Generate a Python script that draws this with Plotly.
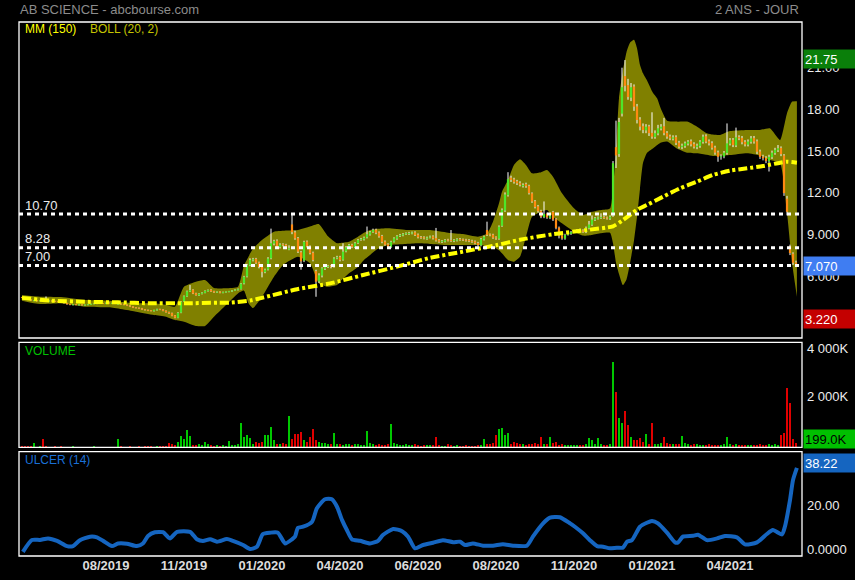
import plotly.graph_objects as go

# ---------------- data ----------------
opens = [
    4.72, 4.70, 4.63, 4.56, 4.47, 4.49, 4.45, 4.50, 4.46, 4.42,
    4.48, 4.45, 4.41, 4.40, 4.37, 4.31, 4.23, 4.17, 4.21, 4.16,
    4.20, 4.15, 4.17, 4.20, 4.25, 4.25, 4.31, 4.29, 4.26, 4.32,
    4.28, 4.31, 4.22, 4.26, 4.23, 4.19, 4.13, 4.06, 3.99, 3.96,
    3.93, 3.86, 3.81, 3.77, 3.73, 3.79, 3.87, 3.84, 3.76, 3.66,
    3.58, 3.42, 3.25, 3.62, 4.42, 4.78, 5.14, 5.26, 5.01, 4.86,
    4.97, 5.04, 5.17, 5.26, 5.16, 5.07, 5.13, 5.04, 5.09, 5.11,
    5.14, 5.21, 5.24, 5.31, 5.72, 6.22, 7.02, 7.38, 7.48, 7.22,
    6.92, 6.53, 6.72, 7.52, 8.58, 8.78, 8.33, 8.52, 8.49, 8.15,
    9.95, 9.38, 8.97, 7.95, 7.35, 8.72, 8.38, 7.92, 6.60, 5.86,
    6.28, 6.78, 6.90, 6.97, 6.92, 7.52, 7.62, 7.42, 8.02, 8.28,
    8.49, 8.33, 8.62, 8.85, 8.88, 9.02, 9.23, 9.42, 9.57, 9.37,
    9.12, 8.72, 8.52, 8.33, 8.72, 8.93, 9.12, 9.17, 9.27, 9.28,
    9.31, 9.38, 9.22, 9.05, 9.02, 8.93, 9.02, 9.09, 8.97, 8.82,
    8.69, 8.73, 8.85, 8.82, 8.76, 8.80, 8.90, 8.87, 8.84, 8.82,
    8.77, 8.73, 8.62, 8.45, 8.88, 9.55, 9.22, 9.21, 9.02, 8.93,
    9.85, 10.95, 12.05, 13.30, 13.18, 13.05, 12.92, 12.70, 12.85, 12.72,
    12.18, 11.62, 11.25, 10.92, 10.48, 10.72, 10.42, 10.85, 10.32, 9.72,
    9.17, 8.93, 9.22, 9.28, 9.42, 9.43, 9.57, 9.52, 9.41, 9.68,
    9.93, 10.28, 10.38, 10.43, 10.48, 10.44, 10.37, 10.60, 15.50, 15.00,
    17.90, 20.60, 19.95, 19.05, 19.85, 18.42, 17.48, 17.00, 16.70, 16.99,
    16.52, 16.23, 16.48, 16.83, 17.00, 16.52, 16.27, 16.10, 16.22, 15.82,
    15.50, 15.58, 15.75, 15.92, 15.72, 15.50, 15.58, 15.87, 16.28, 15.92,
    15.79, 15.47, 15.12, 14.78, 14.83, 15.08, 15.75, 16.02, 15.62, 16.22,
    16.15, 15.87, 15.68, 15.88, 16.15, 15.92, 15.19, 14.82, 14.72, 14.48,
    14.78, 15.08, 15.28, 15.44, 14.90, 11.80, 8.40, 7.85, 7.22,
]
highs = [
    4.75, 4.73, 4.65, 4.58, 4.52, 4.51, 4.53, 4.52, 4.78, 4.50,
    4.50, 4.47, 4.44, 4.42, 4.39, 4.33, 4.25, 4.23, 4.23, 4.22,
    4.22, 4.20, 4.24, 4.26, 4.29, 4.33, 4.34, 4.31, 4.34, 4.35,
    4.33, 4.34, 4.31, 4.28, 4.26, 4.21, 4.16, 4.08, 4.02, 3.99,
    3.96, 3.88, 3.84, 3.80, 3.83, 3.90, 3.90, 3.87, 3.78, 3.69,
    3.62, 3.45, 3.65, 4.45, 4.85, 5.20, 5.60, 5.30, 5.05, 5.02,
    5.09, 5.22, 5.28, 5.30, 5.19, 5.15, 5.16, 5.13, 5.15, 5.18,
    5.24, 5.30, 5.35, 5.75, 6.26, 7.12, 7.52, 7.55, 7.55, 7.28,
    6.98, 6.78, 7.60, 9.65, 8.85, 8.88, 8.60, 8.60, 8.56, 8.45,
    10.70, 9.50, 9.05, 8.05, 8.78, 8.80, 8.45, 8.00, 6.70, 6.45,
    6.88, 7.00, 7.05, 7.05, 7.60, 7.70, 7.70, 8.60, 8.40, 8.55,
    8.56, 8.68, 8.90, 8.98, 9.08, 9.80, 9.48, 9.65, 9.65, 9.45,
    9.20, 8.80, 8.60, 8.78, 9.03, 9.18, 9.27, 9.33, 9.38, 9.42,
    9.44, 9.46, 9.30, 9.12, 9.10, 9.08, 9.15, 9.17, 9.70, 8.90,
    8.83, 8.90, 8.92, 9.55, 8.90, 8.96, 8.98, 8.94, 8.92, 8.90,
    8.85, 8.80, 8.70, 8.98, 9.15, 10.15, 9.30, 9.28, 9.10, 9.88,
    11.10, 12.25, 13.70, 13.45, 13.30, 13.15, 13.05, 12.90, 12.95, 12.80,
    12.25, 11.70, 11.35, 11.00, 11.60, 10.80, 10.70, 10.92, 10.40, 9.80,
    9.25, 9.28, 9.38, 9.48, 9.52, 9.62, 9.65, 9.60, 9.80, 10.20,
    10.60, 10.48, 10.52, 10.75, 10.55, 10.52, 10.60, 14.50, 17.40, 17.60,
    21.20, 21.75, 20.40, 20.10, 20.00, 18.60, 17.65, 17.20, 17.15, 17.10,
    18.00, 16.70, 17.10, 17.15, 17.60, 16.65, 16.40, 16.35, 16.35, 15.95,
    15.75, 15.90, 16.00, 16.05, 15.85, 15.75, 16.00, 16.40, 16.42, 16.05,
    15.92, 15.60, 15.25, 14.98, 15.22, 17.20, 16.15, 16.15, 16.90, 16.35,
    16.30, 16.00, 16.05, 16.30, 16.30, 16.05, 15.32, 14.95, 14.85, 14.95,
    15.25, 15.45, 15.65, 15.55, 15.00, 12.00, 8.50, 7.95, 7.35,
]
lows = [
    4.66, 4.60, 4.53, 4.48, 4.44, 4.43, 4.43, 4.42, 4.41, 4.40,
    4.42, 4.40, 4.37, 4.35, 4.28, 4.19, 4.15, 4.14, 4.15, 4.14,
    4.13, 4.12, 4.15, 4.18, 4.22, 4.23, 4.26, 4.24, 4.24, 4.27,
    4.25, 4.26, 4.20, 4.19, 4.15, 4.09, 4.02, 3.95, 3.92, 3.89,
    3.82, 3.77, 3.73, 3.71, 3.70, 3.76, 3.80, 3.72, 3.62, 3.53,
    3.36, 3.22, 3.22, 3.58, 4.38, 4.74, 5.10, 4.95, 4.84, 4.82,
    4.93, 5.01, 5.13, 5.11, 5.04, 5.03, 5.01, 5.01, 5.05, 5.08,
    5.10, 5.18, 5.21, 5.28, 5.65, 6.15, 6.95, 7.30, 7.12, 6.80,
    6.15, 6.45, 6.65, 7.45, 8.45, 8.25, 8.22, 8.38, 8.25, 8.10,
    9.25, 8.85, 7.90, 6.70, 7.25, 8.30, 7.80, 7.30, 4.76, 5.75,
    6.15, 6.68, 6.82, 6.80, 6.85, 7.45, 7.30, 7.35, 7.95, 8.20,
    8.25, 8.25, 8.55, 8.78, 8.80, 8.95, 9.15, 9.35, 9.25, 9.00,
    8.60, 8.42, 8.22, 8.25, 8.65, 8.85, 9.05, 9.10, 9.20, 9.20,
    9.24, 9.12, 8.95, 8.92, 8.88, 8.85, 8.95, 8.87, 8.72, 8.63,
    8.62, 8.66, 8.73, 8.70, 8.68, 8.73, 8.78, 8.76, 8.72, 8.68,
    8.63, 8.52, 8.38, 8.38, 8.80, 9.12, 9.10, 8.92, 8.85, 8.85,
    9.78, 10.85, 11.95, 13.00, 12.88, 12.78, 12.68, 12.60, 12.58, 12.10,
    11.50, 11.10, 10.80, 10.40, 10.40, 10.35, 10.33, 10.20, 9.60, 8.95,
    8.85, 8.85, 9.15, 9.20, 9.35, 9.35, 9.42, 9.35, 9.33, 9.60,
    9.85, 10.20, 10.30, 10.35, 10.35, 10.30, 10.28, 10.50, 14.00, 14.80,
    17.70, 19.50, 18.90, 18.80, 18.10, 17.20, 16.70, 16.50, 16.50, 16.30,
    16.10, 16.10, 16.35, 16.70, 16.35, 16.10, 16.00, 15.98, 15.65, 15.40,
    15.35, 15.45, 15.62, 15.55, 15.40, 15.35, 15.45, 15.75, 15.78, 15.62,
    15.32, 14.95, 14.45, 14.60, 14.70, 14.95, 15.62, 15.50, 15.50, 16.00,
    15.70, 15.55, 15.55, 15.75, 15.75, 15.00, 14.65, 14.55, 14.35, 13.75,
    14.65, 14.95, 15.15, 14.85, 12.00, 10.60, 7.75, 7.05, 6.95,
]
closes = [
    4.69, 4.62, 4.55, 4.50, 4.48, 4.46, 4.49, 4.45, 4.43, 4.47,
    4.44, 4.42, 4.40, 4.38, 4.30, 4.22, 4.18, 4.20, 4.17, 4.19,
    4.16, 4.18, 4.21, 4.24, 4.26, 4.30, 4.28, 4.27, 4.31, 4.29,
    4.30, 4.28, 4.25, 4.22, 4.18, 4.12, 4.05, 3.98, 3.95, 3.92,
    3.85, 3.80, 3.76, 3.74, 3.80, 3.86, 3.83, 3.75, 3.65, 3.57,
    3.40, 3.26, 3.60, 4.40, 4.80, 5.15, 5.24, 5.00, 4.88, 4.98,
    5.05, 5.18, 5.24, 5.15, 5.08, 5.12, 5.05, 5.10, 5.12, 5.15,
    5.20, 5.25, 5.30, 5.70, 6.20, 7.04, 7.40, 7.45, 7.20, 6.90,
    6.55, 6.70, 7.50, 8.60, 8.75, 8.35, 8.50, 8.47, 8.35, 8.24,
    9.40, 8.95, 8.00, 7.30, 8.70, 8.40, 7.90, 7.40, 5.84, 6.30,
    6.80, 6.92, 6.95, 6.90, 7.50, 7.60, 7.40, 8.00, 8.30, 8.47,
    8.35, 8.60, 8.83, 8.90, 9.00, 9.25, 9.40, 9.55, 9.35, 9.10,
    8.70, 8.50, 8.35, 8.70, 8.95, 9.10, 9.19, 9.25, 9.30, 9.33,
    9.36, 9.20, 9.03, 9.00, 8.95, 9.00, 9.07, 8.95, 8.80, 8.71,
    8.75, 8.83, 8.80, 8.78, 8.82, 8.88, 8.85, 8.83, 8.80, 8.75,
    8.71, 8.60, 8.47, 8.90, 9.07, 9.20, 9.19, 9.00, 8.95, 9.79,
    11.00, 12.10, 13.20, 13.15, 13.00, 12.90, 12.80, 12.78, 12.70, 12.20,
    11.60, 11.20, 10.90, 10.50, 10.70, 10.45, 10.60, 10.30, 9.70, 9.15,
    8.95, 9.20, 9.30, 9.40, 9.45, 9.55, 9.50, 9.43, 9.70, 9.95,
    10.30, 10.40, 10.45, 10.46, 10.42, 10.39, 10.50, 14.35, 14.90, 17.30,
    19.80, 19.90, 19.10, 19.80, 18.40, 17.45, 16.97, 16.73, 16.97, 16.50,
    16.25, 16.50, 16.85, 16.97, 16.50, 16.25, 16.13, 16.20, 15.80, 15.53,
    15.60, 15.77, 15.89, 15.70, 15.53, 15.60, 15.89, 16.25, 15.90, 15.77,
    15.45, 15.10, 14.80, 14.85, 15.10, 15.77, 16.00, 15.65, 16.20, 16.13,
    15.85, 15.70, 15.90, 16.13, 15.90, 15.17, 14.80, 14.70, 14.50, 14.80,
    15.10, 15.30, 15.42, 15.00, 12.20, 10.86, 7.90, 7.20, 7.07,
]
volumes_k = [
    60, 45, 40, 35, 190, 30, 40, 357, 50, 30,
    25, 40, 20, 35, 30, 25, 20, 45, 30, 25,
    20, 30, 25, 20, 35, 25, 20, 30, 25, 20,
    30, 25, 332, 40, 30, 25, 35, 30, 25, 40,
    30, 45, 70, 35, 30, 40, 60, 35, 50, 166,
    120, 90, 200, 481, 332, 718, 480, 110, 80, 120,
    90, 200, 140, 80, 60, 90, 70, 80, 60, 260,
    90, 110, 150, 996, 415, 510, 373, 140, 220, 160,
    200, 510, 510, 842, 290, 150, 120, 180, 130, 1310,
    330, 552, 552, 650, 300, 240, 415, 747, 290, 200,
    160, 180, 130, 120, 580, 120, 140, 110, 150, 120,
    100, 130, 120, 90, 110, 693, 180, 120, 100, 140,
    110, 90, 120, 967, 166, 120, 90, 110, 120, 80,
    90, 120, 80, 70, 90, 110, 80, 100, 415, 80,
    70, 60, 120, 90, 70, 80, 60, 70, 90, 60,
    70, 60, 80, 90, 361, 150, 120, 160, 510, 760,
    788, 510, 580, 150, 220, 160, 120, 140, 110, 130,
    120, 160, 140, 444, 130, 120, 415, 180, 200, 110,
    120, 100, 90, 110, 80, 100, 90, 110, 120, 402,
    290, 150, 373, 120, 90, 110, 150, 3556, 2311, 1232,
    1025, 1508, 926, 444, 290, 290, 373, 200, 552, 150,
    996, 150, 120, 180, 415, 160, 130, 120, 150, 140,
    470, 160, 120, 110, 130, 120, 100, 110, 90, 120,
    110, 100, 90, 110, 120, 415, 120, 90, 150, 100,
    90, 110, 80, 100, 90, 110, 120, 100, 90, 130,
    110, 120, 100, 510, 610, 2449, 1853, 332, 199,
]

bb_idx = [0, 6, 13, 21, 29, 38, 44, 48, 51, 54, 58, 61, 64, 68, 72, 74, 75.5, 77,
          80, 84, 87, 92, 96, 99, 102, 105, 106, 109, 112, 114, 116, 118, 122, 128,
          132, 136, 142, 147, 152, 155, 157, 159, 160, 162, 164, 166, 168, 170, 173,
          175, 177, 180, 184, 187, 190, 193, 196, 197, 198, 199, 200.3, 201.5, 202.7,
          204, 205, 206, 207, 208.3, 210.3, 211.7, 212.7, 215, 218.3, 221.7, 225,
          228.3, 230.3, 232.7, 236, 241.7, 246, 249.3, 252.7, 255, 256.7, 258.3]
bb_upper = [4.88, 4.76, 4.74, 4.52, 4.48, 4.29, 4.29, 4.17, 4.05, 5.48, 5.84, 5.96, 5.39,
            5.37, 5.48, 7.00, 7.63, 8.20, 8.83, 9.43, 9.50, 9.55, 9.80, 9.97, 9.10, 8.60,
            8.62, 8.71, 9.07, 9.35, 9.55, 9.62, 9.67, 9.55, 9.55, 9.55, 9.36, 9.26, 9.07,
            9.30, 10.15, 11.47, 12.30, 13.14, 14.22, 14.63, 14.22, 13.62, 13.70, 13.86,
            13.38, 12.19, 11.11, 10.63, 10.86, 10.99, 11.10, 12.50, 15.30, 19.00, 21.00,
            22.30, 23.00, 23.20, 22.60, 21.40, 20.80, 20.30, 19.40, 19.00, 18.40, 17.40,
            17.33, 17.33, 16.97, 16.50, 16.40, 16.37, 16.65, 16.73, 16.73, 16.85, 16.00,
            17.93, 18.77, 18.80]
bb_lower = [4.48, 4.24, 4.30, 4.05, 4.00, 3.69, 3.45, 3.33, 3.09, 2.97, 2.66, 2.66, 3.33,
            4.17, 5.00, 5.20, 4.30, 3.95, 4.76, 6.20, 7.04, 7.63, 7.16, 5.72, 5.48, 5.60,
            5.84, 6.44, 6.90, 7.40, 7.75, 8.12, 8.47, 8.55, 8.60, 8.55, 8.47, 8.47, 8.47,
            8.40, 8.35, 8.10, 7.88, 7.40, 7.28, 7.63, 9.07, 10.50, 10.86, 10.99, 10.50,
            10.03, 9.43, 9.15, 9.20, 9.31, 9.35, 8.60, 7.20, 6.40, 5.60, 6.00, 7.20, 8.80,
            10.50, 12.50, 14.36, 15.08, 15.40, 15.65, 15.80, 15.90, 15.40, 15.10, 15.06,
            14.95, 14.86, 14.88, 14.93, 15.06, 14.90, 14.60, 14.33, 10.80, 7.18, 4.76]

mm_idx = [0, 9.7, 21, 32, 43, 54.3, 65.3, 69.3, 76.3, 80.3, 91.7, 102.7, 113.7, 125, 136,
          147, 158.3, 166, 177, 188.3, 197, 200.3, 205, 208.3, 213.7, 219.3, 225, 230.3,
          236, 241.7, 247, 252.7, 255, 258.3]
mm_val = [4.68, 4.48, 4.40, 4.36, 4.29, 4.29, 4.33, 4.33, 4.50, 4.70, 5.30, 5.72, 6.32,
          6.92, 7.55, 8.00, 8.47, 8.85, 9.25, 9.55, 9.82, 10.26, 11.00, 11.35, 11.94,
          12.54, 13.02, 13.50, 13.81, 13.98, 14.14, 14.38, 14.45, 14.38]

ulcer_idx = [0.3, 3.3, 6, 8.7, 11.7, 15, 17, 19.3, 22.7, 25, 27, 30, 32, 35, 38.3, 40.3, 42,
             44.3, 47, 49.3, 51.7, 56, 58.3, 60.3, 62.7, 65, 68.3, 70.3, 73.7, 76, 78.3,
             80.3, 82.7, 85.3, 87.7, 90, 91, 92, 93.7, 96.7, 98.3, 101, 103.3, 105, 106.7,
             108.3, 110, 112.7, 116, 118.7, 120.3, 123.7, 126.7, 128.7, 131, 133.7, 137,
             140.3, 143.7, 146, 147.7, 150.3, 153.7, 157, 160.3, 163.7, 168.3, 170.3,
             173.7, 176, 179.3, 182.7, 184.3, 187, 189.3, 191.7, 193.7, 196, 198.3, 200.3,
             201.7, 203.3, 206, 208.3, 210, 212, 215, 217.7, 218.7, 220.3, 223.7, 225.3,
             228.3, 231.7, 234.3, 238.3, 241, 245, 248.3, 250.3, 253.3, 254.3, 256, 257,
             258.3]
ulcer_val = [0.1, 5.45, 5.5, 6.2, 5.1, 2.7, 2.7, 5.4, 7.0, 6.7, 5.1, 2.7, 3.9, 3.8, 2.7, 3.9,
             7.3, 9.0, 9.0, 6.2, 9.2, 9.2, 5.8, 5.0, 5.8, 4.7, 5.9, 5.1, 3.2, 1.4, 2.4, 8.2,
             8.8, 8.8, 3.9, 5.8, 7.0, 11.0, 11.5, 13.8, 19.9, 24.0, 24.0, 20.6, 14.5, 10.0,
             5.8, 5.1, 3.9, 5.1, 7.7, 10.5, 9.5, 7.0, 1.7, 3.2, 4.2, 5.4, 4.5, 4.7, 3.2, 3.9,
             2.9, 2.9, 3.5, 2.9, 2.9, 7.0, 13.0, 15.6, 15.8, 13.0, 11.5, 8.5, 5.4, 2.7, 2.4,
             1.7, 2.0, 2.0, 4.7, 5.4, 11.5, 13.3, 14.1, 13.0, 8.8, 4.4, 4.4, 7.0, 7.4, 7.9,
             5.4, 6.2, 7.3, 6.7, 3.5, 4.4, 8.2, 10.0, 8.0, 11.5, 23.6, 32.7, 38.22]

levels = [10.70, 8.28, 7.00]
level_labels = ["10.70", "8.28", "7.00"]

x_tick_idx = [28, 54, 80, 106, 132, 158, 184, 210, 236]
x_tick_text = ["08/2019", "11/2019", "01/2020", "04/2020", "06/2020",
               "08/2020", "11/2020", "01/2021", "04/2021"]
price_ticks = [6, 9, 12, 15, 18, 21]
price_tick_text = ["6.000", "9.000", "12.00", "15.00", "18.00", "21.00"]
vol_ticks = [2000, 4000]
vol_tick_text = ["2 000K", "4 000K"]
ulcer_ticks = [0, 20]
ulcer_tick_text = ["0.0000", "20.00"]

# ---------------- styling ----------------
FONT = "Liberation Sans, Arial, Helvetica, sans-serif"
UP = "#4ee62a"
DOWN = "#ff8a12"
VUP = "#00c800"
VDOWN = "#e00000"
OLIVE = "#808000"
BLUE = "#1565c0"
W, Hpx = 855, 580
L, R, T, B = 19, 53, 22, 24
PH = Hpx - T - B


def dom(top_px, bot_px):
    return [(Hpx - B - bot_px) / PH, (Hpx - B - top_px) / PH]


n = len(closes)
idx = list(range(n))
up = [c >= o for o, c in zip(opens, closes)]

fig = go.Figure()

# Bollinger band
fig.add_trace(go.Scatter(x=bb_idx, y=bb_lower, mode="lines",
                         line=dict(width=0, color=OLIVE, shape="spline", smoothing=0.5),
                         hoverinfo="skip", showlegend=False, xaxis="x", yaxis="y"))
fig.add_trace(go.Scatter(x=bb_idx, y=bb_upper, mode="lines",
                         line=dict(width=0, color=OLIVE, shape="spline", smoothing=0.5),
                         fill="tonexty", fillcolor=OLIVE, hoverinfo="skip", showlegend=False,
                         xaxis="x", yaxis="y"))

# wicks
wx, wy = [], []
for i in idx:
    wx += [i, i, None]
    wy += [lows[i], highs[i], None]
fig.add_trace(go.Scatter(x=wx, y=wy, mode="lines", line=dict(color="#ffffff", width=1),
                         hoverinfo="skip", showlegend=False, xaxis="x", yaxis="y"))

# candle bodies (thick segments so they draw above band fill and wicks)
MIN_BODY = 0.06
for want_up, col in ((True, UP), (False, DOWN)):
    bx, by = [], []
    for i in idx:
        if up[i] != want_up:
            continue
        lo = min(opens[i], closes[i])
        hi = max(opens[i], closes[i])
        if hi - lo < MIN_BODY:
            mid = (hi + lo) / 2
            lo, hi = mid - MIN_BODY / 2, mid + MIN_BODY / 2
        bx += [i, i, None]
        by += [lo, hi, None]
    fig.add_trace(go.Scatter(x=bx, y=by, mode="lines", line=dict(color=col, width=2.2),
                             hoverinfo="skip", showlegend=False, xaxis="x", yaxis="y"))

# MM 150
fig.add_trace(go.Scatter(x=mm_idx, y=mm_val, mode="lines",
                         line=dict(color="#ffff00", width=4, dash="9px,3px,3px,3px",
                                   shape="spline", smoothing=0.6),
                         hoverinfo="skip", showlegend=False, xaxis="x", yaxis="y"))

# Volume
fig.add_trace(go.Bar(x=idx, y=volumes_k, width=0.5,
                     marker=dict(color=[VUP if u else VDOWN for u in up], line=dict(width=0)),
                     hoverinfo="skip", showlegend=False, xaxis="x2", yaxis="y2"))

# Ulcer
fig.add_trace(go.Scatter(x=ulcer_idx, y=ulcer_val, mode="lines",
                         line=dict(color=BLUE, width=4, shape="spline", smoothing=0.6),
                         hoverinfo="skip", showlegend=False, xaxis="x3", yaxis="y3"))

main_dom = dom(22, 338)
vol_dom = dom(342.3, 447.3)
ulc_dom = dom(451.7, 556)

tickfont = dict(family=FONT, size=13, color="#ececec")
xr = [-1, 260]
common_x = dict(range=xr, showgrid=False, zeroline=False, showline=False, fixedrange=True,
                automargin=False)
common_y = dict(side="right", showgrid=False, zeroline=False, showline=False, ticks="",
                tickfont=tickfont, ticklabelshift=-3, ticklabelstandoff=4, fixedrange=True,
                automargin=False)

fig.update_layout(
    width=W, height=Hpx,
    margin=dict(l=L, r=R, t=T, b=B, autoexpand=False),
    paper_bgcolor="#000000", plot_bgcolor="#000000",
    barmode="overlay", bargap=0,
    showlegend=False,
    font=dict(family=FONT, color="#ececec"),
    xaxis=dict(**common_x, anchor="y", showticklabels=False),
    xaxis2=dict(**common_x, anchor="y2", matches="x", showticklabels=False),
    xaxis3=dict(**common_x, anchor="y3", matches="x", tickvals=x_tick_idx, ticktext=x_tick_text,
                tickfont=dict(family=FONT, size=13, color="#dcdcdc", weight="bold"), ticks=""),
    yaxis=dict(**common_y, domain=main_dom, anchor="x", range=[1.80, 24.48],
               tickvals=price_ticks, ticktext=price_tick_text),
    yaxis2=dict(**common_y, domain=vol_dom, anchor="x2", range=[0, 4370],
                tickvals=vol_ticks, ticktext=vol_tick_text),
    yaxis3=dict(**common_y, domain=ulc_dom, anchor="x3", range=[-1.8, 45.6],
                tickvals=ulcer_ticks, ticktext=ulcer_tick_text),
)

shapes = []
for d in (main_dom, vol_dom, ulc_dom):
    shapes.append(dict(type="rect", xref="paper", yref="paper", x0=0, x1=1, y0=d[0], y1=d[1],
                       line=dict(color="#ffffff", width=1.3), layer="above"))
for lv in levels:
    shapes.append(dict(type="line", xref="paper", yref="y", x0=0, x1=1, y0=lv, y1=lv,
                       line=dict(color="#ffffff", width=3, dash="4px,4px"), layer="above"))
fig.update_layout(shapes=shapes)

ann = []


def px_x(px):
    return (px - L) / (W - L - R)


def px_y(py):
    return (Hpx - B - py) / PH


ann.append(dict(text="AB SCIENCE - abcbourse.com", xref="paper", yref="paper", x=px_x(18), y=px_y(9),
                xanchor="left", yanchor="middle", showarrow=False,
                font=dict(family=FONT, size=13, color="#8c8c8c")))
ann.append(dict(text="2 ANS - JOUR", xref="paper", yref="paper", x=px_x(801), y=px_y(9),
                xanchor="right", yanchor="middle", showarrow=False,
                font=dict(family=FONT, size=13, color="#8c8c8c")))
ann.append(dict(text="MM (150)", xref="paper", yref="paper", x=px_x(23), y=px_y(29),
                xanchor="left", yanchor="middle", showarrow=False,
                font=dict(family=FONT, size=12, color="#ffff00")))
ann.append(dict(text="BOLL (20, 2)", xref="paper", yref="paper", x=px_x(88), y=px_y(29),
                xanchor="left", yanchor="middle", showarrow=False,
                font=dict(family=FONT, size=12, color="#c4c400")))
ann.append(dict(text="VOLUME", xref="paper", yref="paper", x=px_x(23), y=px_y(351),
                xanchor="left", yanchor="middle", showarrow=False,
                font=dict(family=FONT, size=12, color="#00c000")))
ann.append(dict(text="ULCER (14)", xref="paper", yref="paper", x=px_x(23), y=px_y(460),
                xanchor="left", yanchor="middle", showarrow=False,
                font=dict(family=FONT, size=12, color="#1a6fd6")))
for lv, lt in zip(levels, level_labels):
    ann.append(dict(text=lt, xref="paper", yref="y", x=px_x(23), y=lv, yshift=9,
                    xanchor="left", yanchor="middle", showarrow=False,
                    font=dict(family=FONT, size=13, color="#ececec")))


def box(text, yref, yval, bg, fg, yshift=0):
    return dict(text=text, xref="paper", yref=yref, x=1, y=yval, xshift=1, yshift=yshift,
                xanchor="left", yanchor="middle", showarrow=False, align="left",
                width=50, height=16, bgcolor=bg, borderpad=1,
                font=dict(family=FONT, size=13, color=fg))


ann.append(box(f"{max(highs):.2f}", "y", max(highs), "#0a7f0a", "#ffffff", 1))
ann.append(box(f"{closes[-1]:.3f}", "y", closes[-1], "#3f7df2", "#ffffff", -1))
ann.append(box(f"{min(lows):.3f}", "y", min(lows), "#c40000", "#ffffff", -1))
ann.append(box(f"{volumes_k[-1]:.1f}K", "y2", volumes_k[-1], "#00c000", "#000000", 4))
ann.append(box(f"{ulcer_val[-1]:.2f}", "y3", ulcer_val[-1], BLUE, "#ffffff", 5))
fig.update_layout(annotations=ann)

fig.write_html("out.html", config={"displayModeBar": False, "staticPlot": True},
               post_script="document.body.style.margin='0px';document.body.style.background='#000';")
